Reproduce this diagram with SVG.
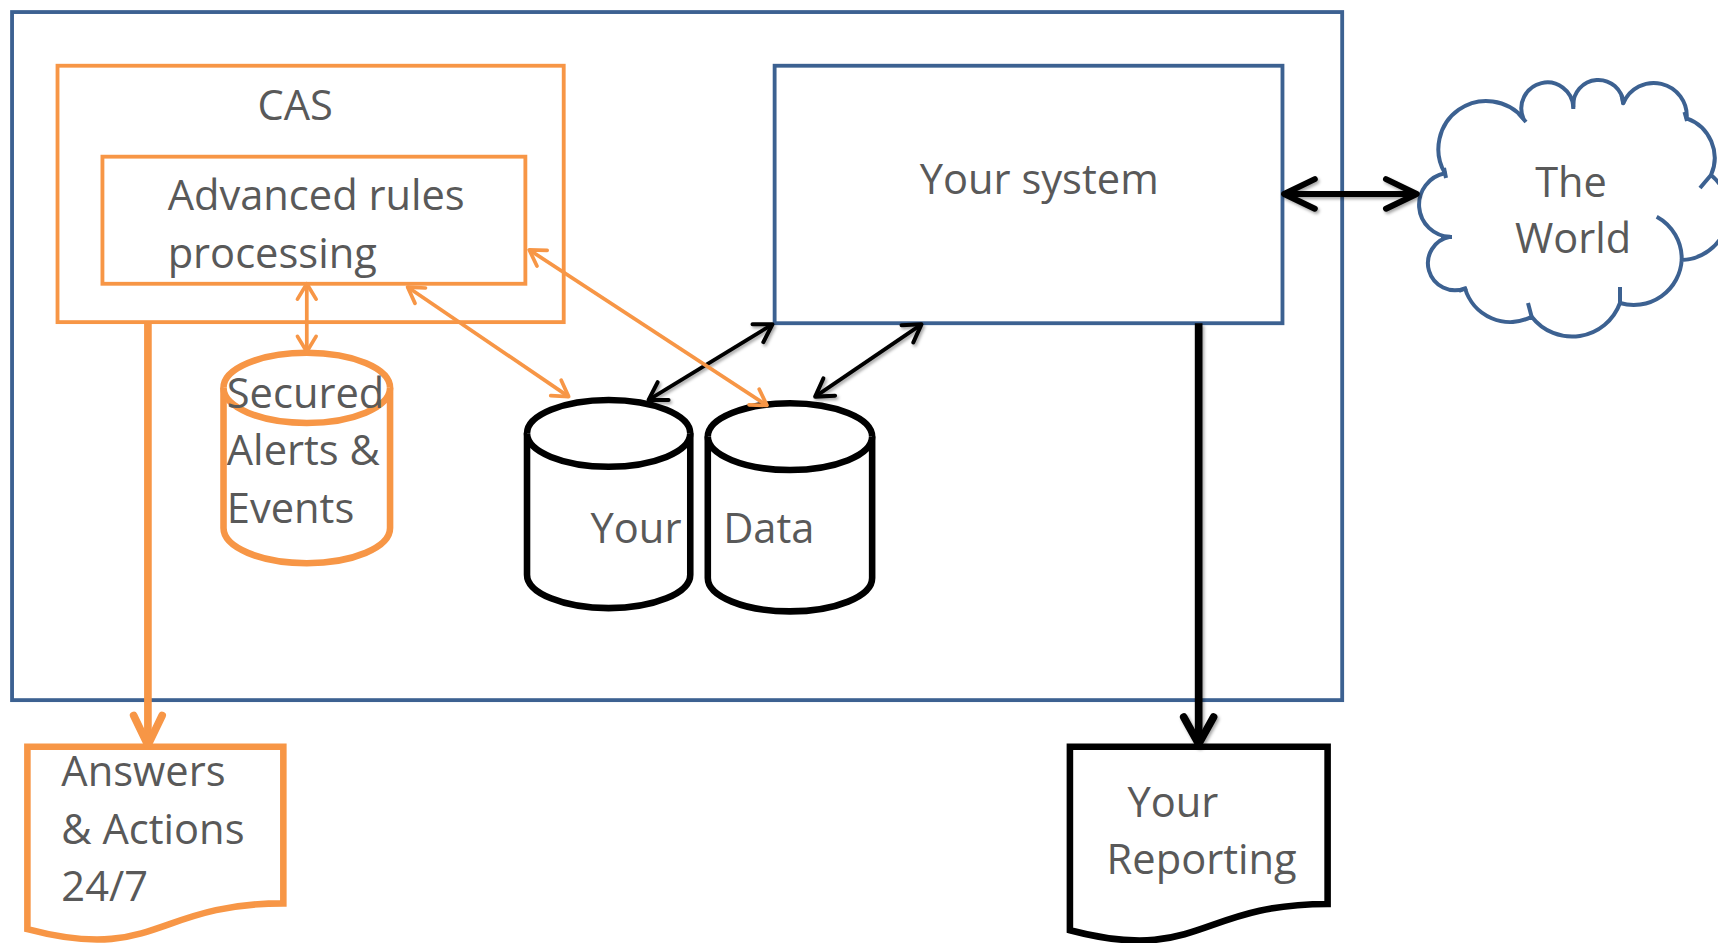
<svg xmlns="http://www.w3.org/2000/svg" width="1718" height="943" viewBox="0 0 1718 943">
<style>
.t{font-family:"Open Sans","Noto Sans",sans-serif;font-size:38px;fill:#595959}
.bl{fill:#fff;stroke:#3C6191;stroke-width:3.5}
.or{fill:#fff;stroke:#F79646;stroke-width:3.5}
.orc{fill:#fff;stroke:#F79646;stroke-width:6}
.bkc{fill:#fff;stroke:#000;stroke-width:6}
.ol{fill:none;stroke:#F79646;stroke-width:3.4}
.bk{fill:none;stroke:#000;stroke-width:3.5}
</style>
<defs>
<filter id="sh" filterUnits="userSpaceOnUse" x="0" y="0" width="1600" height="900">
<feDropShadow dx="1.5" dy="2" stdDeviation="1.5" flood-color="#000" flood-opacity="0.35"/>
</filter>
<marker id="mot" markerUnits="userSpaceOnUse" viewBox="-40 -20 50 40" refX="0" refY="0" markerWidth="50" markerHeight="40" orient="auto-start-reverse" overflow="visible">
<path d="M-14,-8.5 L0,0 L-14,8.5" fill="none" stroke="#F79646" stroke-width="3.4" stroke-linecap="round" stroke-linejoin="round"/>
</marker>
<marker id="mbt" markerUnits="userSpaceOnUse" viewBox="-40 -20 50 40" refX="0" refY="0" markerWidth="50" markerHeight="40" orient="auto-start-reverse" overflow="visible">
<path d="M-15.5,-9.5 L0,0 L-15.5,9.5" fill="none" stroke="#000" stroke-width="3.7" stroke-linecap="round" stroke-linejoin="round"/>
</marker>
<marker id="mbh" markerUnits="userSpaceOnUse" viewBox="-40 -20 50 40" refX="0" refY="0" markerWidth="50" markerHeight="40" orient="auto-start-reverse" overflow="visible">
<path d="M-28,-13.5 L0,0 L-28,13.5" fill="none" stroke="#000" stroke-width="5.5" stroke-linecap="round" stroke-linejoin="round"/>
</marker>
<marker id="mbk" markerUnits="userSpaceOnUse" viewBox="-40 -20 50 40" refX="0" refY="0" markerWidth="50" markerHeight="40" orient="auto" overflow="visible">
<path d="M-24.5,-13.6 L0,0 L-24.5,13.6" fill="none" stroke="#000" stroke-width="7" stroke-linecap="round" stroke-linejoin="round"/>
</marker>
<marker id="mok" markerUnits="userSpaceOnUse" viewBox="-40 -20 50 40" refX="0" refY="0" markerWidth="50" markerHeight="40" orient="auto" overflow="visible">
<path d="M-27,-13 L0,0 L-27,13" fill="none" stroke="#F79646" stroke-width="7" stroke-linecap="round" stroke-linejoin="round"/>
</marker>
</defs>
<rect width="1718" height="943" fill="#fff"/>
<g transform="scale(1.09566)">
<g id="outer"><rect class="bl" x="11" y="11" width="1214" height="628"/></g>
<g id="cas"><rect class="or" x="52.5" y="60" width="462" height="234"/><text class="t" x="269.5" y="109.5" text-anchor="middle">CAS</text></g>
<g id="rules"><rect class="or" x="93.5" y="143" width="386" height="116"/><text class="t" x="153" y="192">Advanced rules</text><text class="t" x="153" y="245">processing</text></g>
<g id="system"><rect class="bl" x="707" y="60" width="463.5" height="235"/><text class="t" x="948.5" y="177" text-anchor="middle">Your system</text></g>
<g id="secured"><path class="orc" d="M204,354 A76,32 0 0 1 356,354 V482 A76,32 0 0 1 204,482 Z"/><path class="orc" fill="none" d="M204,354 A76,32 0 0 0 356,354"/><text class="t" x="207" y="372">Secured</text><text class="t" x="207" y="424">Alerts &amp;</text><text class="t" x="207" y="477">Events</text></g>
<g id="yourdb"><path class="bkc" d="M481,395.5 A74.5,30.5 0 0 1 630,395.5 V524.5 A74.5,30.5 0 0 1 481,524.5 Z"/><path class="bkc" fill="none" d="M481,395.5 A74.5,30.5 0 0 0 630,395.5"/><text class="t" x="539" y="496">Your</text></g>
<g id="datadb"><path class="bkc" d="M646,398.5 A75,30.5 0 0 1 796,398.5 V527.5 A75,30.5 0 0 1 646,527.5 Z"/><path class="bkc" fill="none" d="M646,398.5 A75,30.5 0 0 0 796,398.5"/><text class="t" x="660" y="496">Data</text></g>
<g id="answers"><path class="orc" d="M25,681.5 H258.6 V824.5 C141.8,824.5 141.8,879 25,848 Z"/><text class="t" x="56" y="717">Answers</text><text class="t" x="56" y="770">&amp; Actions</text><text class="t" x="56" y="822">24/7</text></g>
<g id="reporting"><path class="bkc" d="M976.5,681.5 H1211.7 V825 C1094,825 1094,880 976.5,849 Z"/><text class="t" x="1029" y="746">Your</text><text class="t" x="1010" y="798">Reporting</text></g>
</g>
<g id="world">
<path fill="#fff" stroke="#3C6191" stroke-width="4" stroke-linejoin="round" d="M1445,173.3 A48,48 0 0 1 1523.3,118.3 A26,26 0 1 1 1573.3,106.7 A25,25 0 1 1 1623.3,103.3 A33,33 0 0 1 1686.7,118.3 A42,42 0 0 1 1711,175 A48,48 0 0 1 1681.7,260 A48,48 0 0 1 1620,303 A51,51 0 0 1 1531.7,316.7 A47,47 0 0 1 1465,288.3 A27,27 0 1 1 1450,236.7 A32,32 0 0 1 1445,173.3 Z"/>
<path fill="none" stroke="#3C6191" stroke-width="4" stroke-linecap="butt" d="M1444,168 L1446,178 M1519,114 L1526,122 M1573.3,98 V109 M1621.5,95 L1623.3,104 M1684.5,112 L1687,121 M1711,175 L1700,188 M1656.7,216.7 A48,48 0 0 1 1681.7,260 M1620,287 V304 M1528,303 L1531.7,317 M1459,291 L1467,288 M1441,237 H1452"/>
<text class="t" style="font-size:41.5px" x="1571" y="197" text-anchor="middle">The</text>
<text class="t" style="font-size:41.5px" x="1573" y="253" text-anchor="middle">World</text>
</g>
<g id="connectors" transform="scale(1.09566)">
<path class="bk" filter="url(#sh)" d="M705,296 L592,365" marker-start="url(#mbt)" marker-end="url(#mbt)"/>
<path class="bk" filter="url(#sh)" d="M841,296 L744,362" marker-start="url(#mbt)" marker-end="url(#mbt)"/>
<path fill="none" stroke="#000" stroke-width="5.5" filter="url(#sh)" d="M1172,177 L1293,177" marker-start="url(#mbh)" marker-end="url(#mbh)"/>
<path fill="none" stroke="#000" stroke-width="7" filter="url(#sh)" d="M1094,295 L1094,679" marker-end="url(#mbk)"/>
<path class="ol" d="M280,259 L280,321" marker-start="url(#mot)" marker-end="url(#mot)"/>
<path class="ol" d="M372,262 L519,362" marker-start="url(#mot)" marker-end="url(#mot)"/>
<path class="ol" d="M483,228 L700,370" marker-start="url(#mot)" marker-end="url(#mot)"/>
<path fill="none" stroke="#F79646" stroke-width="7" d="M135,294 L135,680" marker-end="url(#mok)"/>
</g>
</svg>
